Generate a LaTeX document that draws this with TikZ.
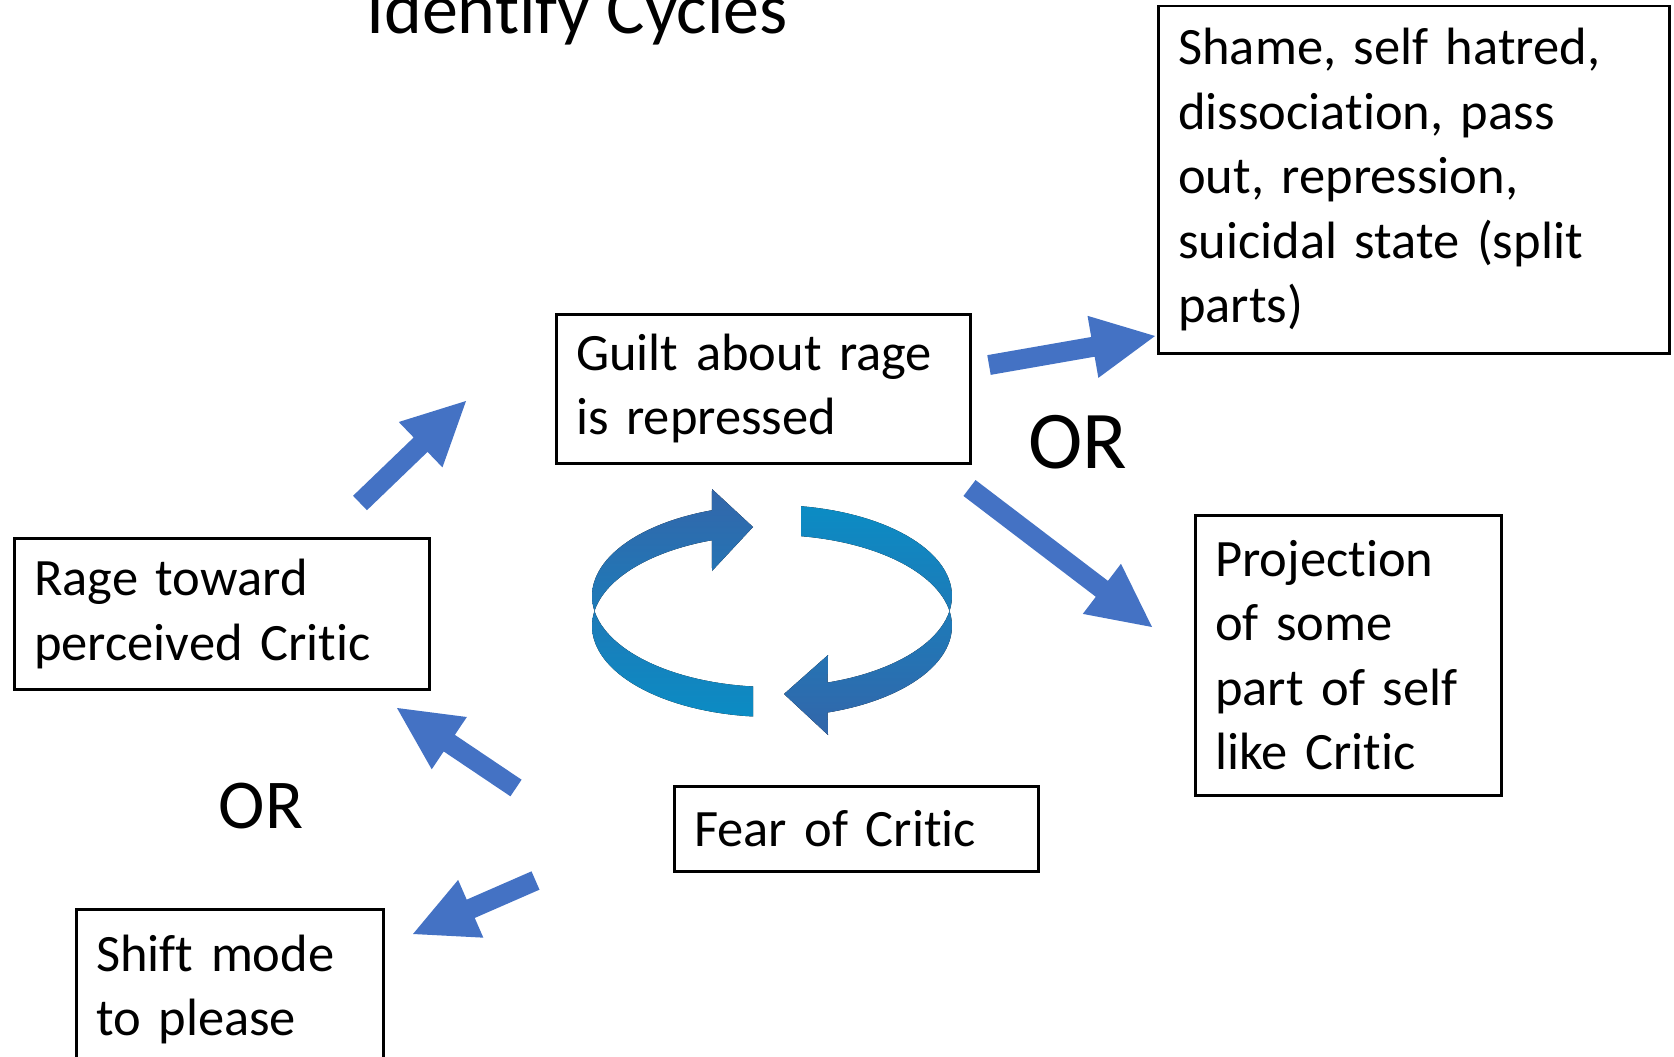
\documentclass[tikz,border=0pt]{standalone}
\usepackage{fontspec}
\setmainfont{Carlito}[Ligatures=NoCommon]
\usetikzlibrary{calc}
\definecolor{arrowblue}{HTML}{4472C4}
\definecolor{cycteal}{HTML}{0B8CC4}
\definecolor{cyclight}{HTML}{2399DA}
\definecolor{cycdark}{HTML}{3366AA}
\newcommand\boxfont{\fontsize{52.5}{64.5}\selectfont}
\def\cyclebox(#1,#2,#3,#4,#5,#6){
  \node[draw, line width=2.5pt, anchor=north west, align=left, inner xsep=20pt, inner ysep=0pt, text width=#3, minimum height=#4, font=\boxfont] (#5) at (#1,#2) {#6};
}
\def\blockarrow(#1,#2){
  \coordinate (ah) at ($(#2)!63pt!(#1)$);
  \fill[arrowblue] ($(#1)!10pt!90:(#2)$) -- ($(ah)!10pt!90:(#2)$) -- ($(ah)!31.5pt!90:(#2)$) -- (#2)
                   -- ($(ah)!31.5pt!-90:(#2)$) -- ($(ah)!10pt!-90:(#2)$) -- ($(#1)!10pt!-90:(#2)$) -- cycle;
}

\begin{document}
\begin{tikzpicture}[x=1pt, y=-1pt]
\useasboundingbox (0,0) rectangle (1674,1057);
\node[anchor=base, font=\fontsize{72}{86}\selectfont] (title) at (577,34) {Identify Cycles};
\cyclebox(1157,5,471,347,shame,{Shame, self hatred,\\dissociation, pass\\out, repression,\\suicidal state (split\\parts)})
\cyclebox(555,313,374,149,guilt,{Guilt about rage\\is repressed})
\cyclebox(13,537,375,151,rage,{Rage toward\\perceived Critic})
\cyclebox(1194,514,266,280,proj,{Projection\\of some\\part of self\\like Critic})
\cyclebox(673,785,324,85,fear,{Fear of Critic})
\cyclebox(75,908,267,160,shift,{Shift mode\\to please})
\node[anchor=base, font=\fontsize{82}{98}\selectfont] (or_right) at (1078,468) {OR};
\node[anchor=base, font=\fontsize{70}{84}\selectfont] (or_left) at (261,828) {OR};
\coordinate (rage_out) at (360,503);
\coordinate (guilt_in) at (466,401);
\coordinate (guilt_out_a) at (989,365);
\coordinate (shame_in) at (1155,336);
\coordinate (guilt_out_b) at (969.5,488);
\coordinate (proj_in) at (1152,627);
\coordinate (fear_out_a) at (516,788);
\coordinate (rage_in) at (397,708);
\coordinate (fear_out_b) at (535.5,880.5);
\coordinate (shift_in) at (413,934);
\blockarrow(rage_out,guilt_in)
\blockarrow(guilt_out_a,shame_in)
\blockarrow(guilt_out_b,proj_in)
\blockarrow(fear_out_a,rage_in)
\blockarrow(fear_out_b,shift_in)
\fill[top color=cycdark, middle color=cyclight, bottom color=cycteal]
  plot[domain=264:109.5, samples=60] ({772+180*cos(\x)},{596-91*sin(\x)})
  -- (712,489) -- (753,527) -- (712,571)
  -- plot[domain=109.5:264, samples=60] ({772+180*cos(\x)},{626-91*sin(\x)}) -- cycle;
\fill[top color=cycteal, middle color=cyclight, bottom color=cycdark]
  plot[domain=80.7:-72, samples=60] ({772+180*cos(\x)},{596-91*sin(\x)})
  -- (828,655) -- (784,694) -- (828,735)
  -- plot[domain=-72:80.7, samples=60] ({772+180*cos(\x)},{626-91*sin(\x)}) -- cycle;
\end{tikzpicture}
\end{document}
